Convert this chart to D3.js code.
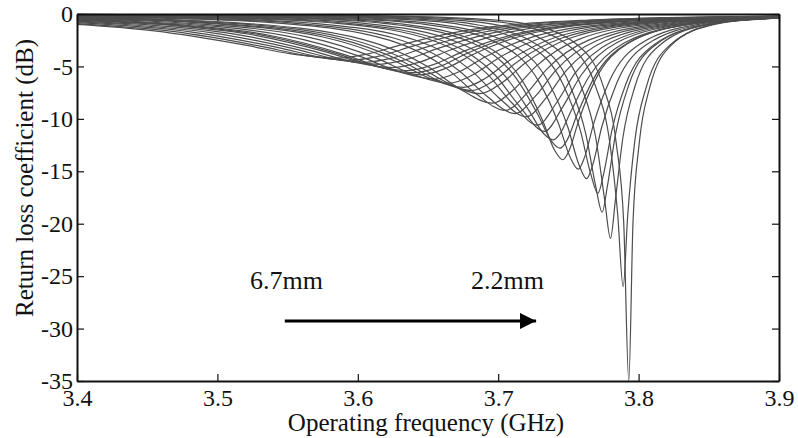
<!DOCTYPE html>
<html>
<head>
<meta charset="utf-8">
<script src="https://cdn.jsdelivr.net/npm/d3@7"></script>
<style>
body { margin: 0; background: #fff; }
svg text { font-family: "Liberation Serif", "Times New Roman", serif !important; fill: #111; }
</style>
</head>
<body>
<div id="chart-area"></div>
<script>
// tick values
var xTicks = [3.4, 3.5, 3.6, 3.7, 3.8, 3.9];
var yTicks = [0, -5, -10, -15, -20, -25, -30, -35];

var xTitle = "Operating frequency (GHz)";
var yTitle = "Return loss coefficient (dB)";
var sweepLabels = ["6.7mm", "2.2mm"];

// S11 curves of the parametric sweep, [GHz, dB]
var sweep = [
	[[3.4,-0.04],[3.613,-0.17],[3.685,-0.46],[3.721,-0.97],[3.757,-3.01],[3.775,-6.98],[3.784,-12.26],[3.7894,-19.9],[3.793,-35],[3.796,-19.9],[3.8005,-12.26],[3.808,-6.98],[3.823,-3.01],[3.853,-0.97],[3.883,-0.46],[3.9,-0.33]],
	[[3.4,-0.04],[3.594,-0.17],[3.672,-0.46],[3.711,-0.97],[3.750,-3.0],[3.7695,-6.95],[3.7793,-12.1],[3.7851,-19.1],[3.789,-26],[3.7923,-19.1],[3.7973,-12.1],[3.8055,-6.95],[3.822,-3.0],[3.855,-0.97],[3.888,-0.46],[3.9,-0.37]],
	[[3.4,-0.05],[3.570,-0.17],[3.654,-0.46],[3.696,-0.96],[3.738,-2.98],[3.759,-6.87],[3.7695,-11.8],[3.7758,-17.7],[3.780,-21.4],[3.7835,-17.7],[3.7888,-11.8],[3.7975,-6.87],[3.815,-2.98],[3.850,-0.96],[3.885,-0.46],[3.9,-0.35]],
	[[3.4,-0.06],[3.544,-0.17],[3.636,-0.45],[3.682,-0.96],[3.728,-2.95],[3.751,-6.77],[3.7625,-11.5],[3.7694,-16.4],[3.774,-18.9],[3.7778,-16.4],[3.7835,-11.5],[3.793,-6.77],[3.812,-2.95],[3.850,-0.96],[3.888,-0.45],[3.9,-0.37]],
	[[3.4,-0.08],[3.521,-0.17],[3.621,-0.45],[3.671,-0.95],[3.721,-2.93],[3.746,-6.66],[3.7585,-11.1],[3.766,-15.3],[3.771,-17.1],[3.775,-15.3],[3.781,-11.1],[3.791,-6.66],[3.811,-2.93],[3.851,-0.95],[3.891,-0.45],[3.9,-0.39]],
	[[3.4,-0.09],[3.493,-0.16],[3.601,-0.44],[3.655,-0.94],[3.709,-2.89],[3.736,-6.55],[3.7495,-10.75],[3.7576,-14.4],[3.763,-15.7],[3.7673,-14.4],[3.7738,-10.75],[3.7845,-6.55],[3.806,-2.89],[3.849,-0.94],[3.892,-0.44],[3.9,-0.36]],
	[[3.4,-0.10],[3.477,-0.16],[3.589,-0.44],[3.645,-0.93],[3.701,-2.87],[3.729,-6.45],[3.743,-10.46],[3.7514,-13.7],[3.757,-14.8],[3.7614,-13.7],[3.768,-10.46],[3.779,-6.45],[3.801,-2.87],[3.845,-0.93],[3.889,-0.44],[3.9,-0.35]],
	[[3.4,-0.12],[3.456,-0.16],[3.572,-0.44],[3.630,-0.93],[3.688,-2.84],[3.717,-6.33],[3.7315,-10.1],[3.7402,-13.0],[3.746,-13.9],[3.7506,-13.0],[3.7575,-10.1],[3.769,-6.33],[3.792,-2.84],[3.838,-0.93],[3.884,-0.44],[3.9,-0.36]],
	[[3.4,-0.13],[3.558,-0.43],[3.620,-0.91],[3.682,-2.79],[3.713,-6.16],[3.7285,-9.66],[3.7378,-12.1],[3.744,-12.8],[3.7488,-12.1],[3.756,-9.66],[3.768,-6.16],[3.792,-2.79],[3.840,-0.91],[3.888,-0.43],[3.9,-0.37]],
	[[3.4,-0.16],[3.538,-0.43],[3.605,-0.90],[3.672,-2.74],[3.7055,-6.01],[3.7223,-9.28],[3.7323,-11.4],[3.739,-12.0],[3.7441,-11.4],[3.7518,-9.28],[3.7645,-6.01],[3.790,-2.74],[3.841,-0.90],[3.892,-0.43],[3.9,-0.39]],
	[[3.4,-0.17],[3.523,-0.42],[3.593,-0.89],[3.663,-2.69],[3.698,-5.84],[3.7155,-8.85],[3.733,-11.2],[3.746,-8.85],[3.759,-5.84],[3.785,-2.69],[3.837,-0.89],[3.889,-0.42],[3.9,-0.37]],
	[[3.4,-0.19],[3.512,-0.42],[3.584,-0.88],[3.656,-2.65],[3.692,-5.69],[3.710,-8.51],[3.728,-10.6],[3.7413,-8.51],[3.7545,-5.69],[3.781,-2.65],[3.834,-0.88],[3.887,-0.42],[3.9,-0.36]],
	[[3.4,-0.22],[3.489,-0.41],[3.566,-0.86],[3.643,-2.58],[3.6815,-5.47],[3.7008,-8.03],[3.720,-9.8],[3.734,-8.03],[3.748,-5.47],[3.776,-2.58],[3.832,-0.86],[3.888,-0.41],[3.9,-0.36]],
	[[3.4,-0.24],[3.472,-0.41],[3.552,-0.85],[3.632,-2.55],[3.672,-5.38],[3.692,-7.84],[3.712,-9.5],[3.7265,-7.84],[3.741,-5.38],[3.770,-2.55],[3.828,-0.85],[3.886,-0.41],[3.9,-0.35]],
	[[3.4,-0.27],[3.459,-0.40],[3.541,-0.84],[3.623,-2.52],[3.664,-5.28],[3.6845,-7.64],[3.705,-9.2],[3.7198,-7.64],[3.7345,-5.28],[3.764,-2.52],[3.823,-0.84],[3.882,-0.40],[3.9,-0.31]],
	[[3.4,-0.31],[3.512,-0.82],[3.604,-2.44],[3.650,-5.04],[3.673,-7.17],[3.696,-8.5],[3.7113,-7.17],[3.7265,-5.04],[3.757,-2.44],[3.818,-0.82],[3.879,-0.39],[3.9,-0.32]],
	[[3.4,-0.37],[3.497,-0.78],[3.592,-2.31],[3.6395,-4.70],[3.6633,-6.53],[3.687,-7.6],[3.703,-6.53],[3.719,-4.70],[3.751,-2.31],[3.815,-0.78],[3.879,-0.37],[3.9,-0.28]],
	[[3.4,-0.35],[3.487,-0.77],[3.584,-2.27],[3.6325,-4.57],[3.6568,-6.31],[3.681,-7.3],[3.6973,-6.31],[3.7135,-4.57],[3.746,-2.27],[3.811,-0.77],[3.876,-0.37],[3.9,-0.29]],
	[[3.4,-0.42],[3.477,-0.76],[3.576,-2.22],[3.6255,-4.44],[3.6503,-6.08],[3.675,-7.0],[3.6915,-6.08],[3.708,-4.44],[3.741,-2.22],[3.807,-0.76],[3.873,-0.36],[3.9,-0.29]],
	[[3.4,-0.46],[3.461,-0.74],[3.563,-2.15],[3.614,-4.26],[3.6395,-5.77],[3.665,-6.6],[3.6823,-5.77],[3.6995,-4.26],[3.734,-2.15],[3.803,-0.74],[3.872,-0.35],[3.9,-0.28]],
	[[3.4,-0.52],[3.443,-0.72],[3.549,-2.08],[3.602,-4.07],[3.6285,-5.46],[3.655,-6.2],[3.673,-5.46],[3.691,-4.07],[3.727,-2.08],[3.799,-0.72],[3.871,-0.34],[3.9,-0.27]],
	[[3.4,-0.56],[3.4815,-1.12],[3.536,-2.00],[3.5905,-3.87],[3.6178,-5.14],[3.645,-5.8],[3.6635,-5.14],[3.682,-3.87],[3.719,-2.00],[3.793,-0.69],[3.867,-0.33],[3.9,-0.26]],
	[[3.4,-0.59],[3.4735,-1.10],[3.529,-1.95],[3.5845,-3.76],[3.6123,-4.98],[3.640,-5.6],[3.6588,-4.98],[3.6775,-3.76],[3.715,-1.95],[3.790,-0.68],[3.865,-0.32],[3.9,-0.25]],
	[[3.4,-0.62],[3.4655,-1.07],[3.522,-1.91],[3.5785,-3.66],[3.6068,-4.81],[3.635,-5.4],[3.6543,-4.81],[3.6735,-3.66],[3.712,-1.91],[3.789,-0.67],[3.866,-0.32],[3.9,-0.25]],
	[[3.4,-0.68],[3.451,-1.04],[3.509,-1.84],[3.567,-3.50],[3.596,-4.56],[3.625,-5.1],[3.6448,-4.56],[3.6645,-3.50],[3.704,-1.84],[3.783,-0.65],[3.862,-0.31],[3.9,-0.24]],
	[[3.4,-0.75],[3.435,-1.00],[3.495,-1.77],[3.555,-3.33],[3.585,-4.31],[3.615,-4.8],[3.6355,-4.31],[3.656,-3.33],[3.697,-1.77],[3.779,-0.62],[3.861,-0.30],[3.9,-0.23]],
	[[3.4,-0.82],[3.482,-1.72],[3.5435,-3.21],[3.5743,-4.14],[3.605,-4.6],[3.6263,-4.14],[3.6475,-3.21],[3.690,-1.72],[3.775,-0.61],[3.860,-0.29],[3.9,-0.22]],
	[[3.4,-0.91],[3.468,-1.66],[3.5315,-3.09],[3.5633,-3.97],[3.595,-4.4],[3.6168,-3.97],[3.6385,-3.09],[3.682,-1.66],[3.769,-0.59],[3.856,-0.28],[3.9,-0.21]],
	[[3.4,-0.99],[3.455,-1.61],[3.52,-2.97],[3.5525,-3.80],[3.585,-4.2],[3.6075,-3.80],[3.630,-2.97],[3.675,-1.61],[3.765,-0.57],[3.855,-0.28],[3.9,-0.21]]
];

var margin = {top: 14, left: 77, bottom: 57, right: 19};
var width = 798 - margin.left - margin.right;
var height = 438 - margin.top - margin.bottom;

var svg = d3.select("#chart-area")
	.append("svg")
		.attr("width", 798)
		.attr("height", 438);

var g = svg.append("g")
	.attr("transform", "translate(" + margin.left + ", " + margin.top + ")");

var x = d3.scaleLinear()
	.domain([3.4, 3.9])
	.range([0, width]);

var y = d3.scaleLinear()
	.domain([-35, 0])
	.range([height, 0]);

// curves
var line = d3.line()
	.x(function(d){ return x(d[0]); })
	.y(function(d){ return y(d[1]); })
	.curve(d3.curveMonotoneX);

g.selectAll("path.s11")
	.data(sweep)
	.enter()
	.append("path")
		.attr("class", "s11")
		.attr("d", line)
		.attr("fill", "none")
		.attr("stroke", "#4d4d4d")
		.attr("stroke-width", 1.2);

// axes, ticks pointing inward on all four sides
var xAxisCall = d3.axisBottom(x).tickValues(xTicks).tickFormat(d3.format(".1f"))
	.tickSizeInner(-7).tickSizeOuter(0).tickPadding(8);
var yAxisCall = d3.axisLeft(y).tickValues(yTicks).tickFormat(function(d){ return String(d); })
	.tickSizeInner(-7).tickSizeOuter(0).tickPadding(4);

var xAxis = g.append("g")
	.attr("transform", "translate(0, " + height + ")")
	.call(xAxisCall);
var yAxis = g.append("g").call(yAxisCall);
var topAxis = g.append("g")
	.call(d3.axisTop(x).tickValues(xTicks).tickFormat("").tickSizeInner(-7).tickSizeOuter(0));
var rightAxis = g.append("g")
	.attr("transform", "translate(" + width + ", 0)")
	.call(d3.axisRight(y).tickValues(yTicks).tickFormat("").tickSizeInner(-7).tickSizeOuter(0));

[xAxis, yAxis, topAxis, rightAxis].forEach(function(a){
	a.attr("font-family", null).attr("font-size", null);
	a.select(".domain").attr("stroke", "#111").attr("stroke-width", 2);
	a.selectAll(".tick line").attr("stroke", "#111").attr("stroke-width", 1.2);
	a.selectAll("text")
		.style("font-family", "'Liberation Serif', serif")
		.style("font-size", "24px")
		.attr("fill", "#111");
});

// axis titles
svg.append("text")
	.attr("x", 426)
	.attr("y", 431)
	.style("font-size", "25px")
	.attr("text-anchor", "middle")
	.text(xTitle);

svg.append("text")
	.attr("transform", "translate(33, 178) rotate(-90)")
	.style("font-size", "25px")
	.attr("text-anchor", "middle")
	.text(yTitle);

// sweep direction annotation
g.append("text")
	.attr("x", x(3.5232))
	.attr("y", y(-26.2))
	.style("font-size", "26px")
	.text(sweepLabels[0]);

g.append("text")
	.attr("x", x(3.6806))
	.attr("y", y(-26.2))
	.style("font-size", "26px")
	.text(sweepLabels[1]);

svg.append("defs").append("marker")
	.attr("id", "head")
	.attr("viewBox", "0 0 10 10")
	.attr("refX", 10).attr("refY", 5)
	.attr("markerWidth", 5.5).attr("markerHeight", 5.5)
	.attr("markerUnits", "strokeWidth")
	.attr("orient", "auto")
	.append("path")
		.attr("d", "M0,0 L10,5 L0,10 Z")
		.attr("fill", "#000");

g.append("line")
	.attr("x1", x(3.548)).attr("x2", x(3.727))
	.attr("y1", y(-29.28)).attr("y2", y(-29.28))
	.attr("stroke", "#000")
	.attr("stroke-width", 3)
	.attr("marker-end", "url(#head)");
</script>
</body>
</html>
